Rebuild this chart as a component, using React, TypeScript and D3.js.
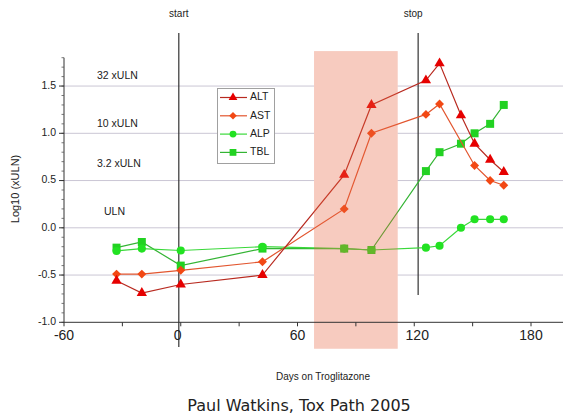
import React from "react";
import * as d3 from "d3";

// ---- data ----
const altDays = [-33, -20, 0, 42, 84, 98, 126, 133, 144, 151, 159, 166];
const altValues = [-0.56, -0.69, -0.6, -0.5, 0.56, 1.3, 1.56, 1.74, 1.19, 0.89, 0.72, 0.59];

const astDays = [-33, -20, 0, 42, 84, 98, 126, 133, 151, 159, 166];
const astValues = [-0.49, -0.49, -0.45, -0.36, 0.2, 1.0, 1.2, 1.31, 0.66, 0.5, 0.45];

const alpDays = [-33, -20, 0, 42, 84, 98, 126, 133, 144, 151, 159, 166];
const alpValues = [-0.245, -0.22, -0.24, -0.2, -0.22, -0.235, -0.21, -0.19, 0.0, 0.09, 0.09, 0.09];

const tblDays = [-33, -20, 0, 42, 84, 98, 126, 133, 144, 151, 159, 166];
const tblValues = [-0.21, -0.15, -0.4, -0.22, -0.22, -0.235, 0.6, 0.8, 0.89, 1.0, 1.1, 1.3];

const xTicks = [-60, 0, 60, 120, 180];
const xMinorTicks = [-30, 30, 90, 150];
const yTicks = [-1.0, -0.5, 0.0, 0.5, 1.0, 1.5];
const gridValues = [-0.5, 0.0, 0.5, 1.0, 1.5];
const levelLabels = ["32 xULN", "10 xULN", "3.2 xULN", "ULN"];
const levelLabelValues = [1.6, 1.1, 0.67, 0.17];
const startDay = -1;
const stopDay = 122;
const windowDays = [68.5, 111.5];
const windowValues = [1.87, -1.28];

const seriesNames = ["ALT", "AST", "ALP", "TBL"];

const W = 563;
const H = 417;
const FONT = "'Liberation Sans', Arial, sans-serif";

export default function App() {
  const x = d3.scaleLinear().domain([-60, 180]).range([64, 531]);
  const y = d3.scaleLinear().domain([-1, 1.8]).range([322.3, 57.7]);
  const x0 = 64;
  const xEnd = 563;
  const yBase = y(-1);

  const series = [
    { name: "ALT", days: altDays, vals: altValues, line: "#b82a20", fill: "#e60000", shape: "tri" },
    { name: "AST", days: astDays, vals: astValues, line: "#e2552e", fill: "#f24814", shape: "dia" },
    { name: "ALP", days: alpDays, vals: alpValues, line: "#3ad83a", fill: "#22e222", shape: "cir" },
    { name: "TBL", days: tblDays, vals: tblValues, line: "#34b434", fill: "#22d222", shape: "sq" },
  ];

  const symPath = (shape: string, scale = 1) => {
    if (shape === "tri") return d3.symbol(d3.symbolTriangle, 46 * scale * scale)()!;
    if (shape === "sq") return d3.symbol(d3.symbolSquare, 64 * scale * scale)()!;
    if (shape === "cir") return d3.symbol(d3.symbolCircle, 52 * scale * scale)()!;
    return d3.symbol(d3.symbolSquare, 40 * scale * scale)()!;
  };

  const line = d3
    .line<[number, number]>()
    .x((d) => x(d[0]))
    .y((d) => y(d[1]));

  const minorY = d3.range(-1, 1.8001, 0.1);

  const rx = x(windowDays[0]);
  const rw = x(windowDays[1]) - x(windowDays[0]);
  const ry = y(windowValues[0]);
  const rh = y(windowValues[1]) - y(windowValues[0]);

  const drawOrder = [3, 2, 1, 0];

  return (
    <div style={{ position: "absolute", left: 0, top: 0 }}>
      <svg width={W} height={H} style={{ display: "block", background: "#fff" }} fontFamily={FONT}>
        <rect x={0} y={0} width={W} height={H} fill="#fff" />
        {/* grid lines */}
        {gridValues.map((v) => (
          <line key={v} x1={x0} x2={xEnd} y1={y(v)} y2={y(v)} stroke="#cac6d4" strokeWidth={1} />
        ))}
        {/* window background hides grid */}
        <rect x={rx} y={ry} width={rw} height={rh} fill="#fff" />

        {/* level labels */}
        {levelLabels.map((t, i) => (
          <text
            key={t}
            x={i === 3 ? 104 : 97}
            y={y(levelLabelValues[i])}
            fontSize={10.5}
            fill="#222"
            dominantBaseline="middle"
          >
            {t}
          </text>
        ))}

        {/* start / stop lines */}
        <line x1={x(startDay)} x2={x(startDay)} y1={33} y2={347} stroke="#333" strokeWidth={1.2} />
        <line x1={x(stopDay)} x2={x(stopDay)} y1={33} y2={295} stroke="#333" strokeWidth={1.2} />
        <text x={x(startDay)} y={17} fontSize={10} textAnchor="middle" fill="#222">start</text>
        <text x={x(stopDay) - 5} y={17} fontSize={10} textAnchor="middle" fill="#222">stop</text>

        {/* series */}
        {drawOrder.map((i) => {
          const s = series[i];
          const pts = s.days.map((d, k) => [d, s.vals[k]] as [number, number]);
          return (
            <g key={s.name}>
              <path d={line(pts)!} fill="none" stroke={s.line} strokeWidth={1.2} />
              {pts.map((p, k) => (
                <path
                  key={k}
                  d={symPath(s.shape)}
                  transform={`translate(${x(p[0])},${y(p[1])})${s.shape === "dia" ? " rotate(45)" : ""}`}
                  fill={s.fill}
                />
              ))}
            </g>
          );
        })}

        {/* translucent pink window */}
        <rect x={rx} y={ry} width={rw} height={rh} fill="#e8603c" fillOpacity={0.33} />

        {/* y axis */}
        <line x1={x0} x2={x0} y1={y(1.8)} y2={yBase} stroke="#333" strokeWidth={1} />
        {minorY.map((v, i) => (
          <line key={i} x1={x0 - 2.5} x2={x0} y1={y(v)} y2={y(v)} stroke="#555" strokeWidth={0.8} />
        ))}
        {yTicks.map((v) => (
          <g key={v}>
            <line x1={x0 - 5} x2={x0} y1={y(v)} y2={y(v)} stroke="#333" strokeWidth={1} />
            <text x={56} y={y(v)} fontSize={10.5} textAnchor="end" dominantBaseline="middle" fill="#222">
              {v.toFixed(1)}
            </text>
          </g>
        ))}
        <text
          transform={`translate(16,189) rotate(-90)`}
          fontSize={11}
          textAnchor="middle"
          dominantBaseline="middle"
          fill="#222"
        >
          Log10 (xULN)
        </text>

        {/* x axis */}
        <line x1={x0} x2={xEnd} y1={yBase} y2={yBase} stroke="#333" strokeWidth={1} />
        {[...xTicks, ...xMinorTicks].map((v) => (
          <line key={v} x1={x(v)} x2={x(v)} y1={yBase} y2={yBase + 4} stroke="#333" strokeWidth={1} />
        ))}
        {xTicks.map((v) => (
          <text key={v} x={x(v) + (v === 0 ? -3 : v === 120 ? 3 : 0)} y={340} fontSize={14} textAnchor="middle" fill="#222">
            {String(v)}
          </text>
        ))}
        <text x={323} y={380} fontSize={10} textAnchor="middle" fill="#222">
          Days on Troglitazone
        </text>

        {/* legend */}
        <rect x={217.5} y={88.5} width={57} height={75} fill="#fff" stroke="#a0a0a0" strokeWidth={1} />
        {series.map((s, i) => {
          const ly = 97.5 + i * 18.3;
          return (
            <g key={s.name}>
              <line x1={220} x2={247} y1={ly} y2={ly} stroke={s.line} strokeWidth={1.2} />
              <path
                d={symPath(s.shape, 0.85)}
                transform={`translate(233,${ly})${s.shape === "dia" ? " rotate(45)" : ""}`}
                fill={s.fill}
              />
              <text x={250} y={ly} fontSize={10.5} dominantBaseline="middle" fill="#222">
                {seriesNames[i]}
              </text>
            </g>
          );
        })}

        {/* caption */}
        <text x={299} y={411} fontSize={16} textAnchor="middle" fill="#222" fontFamily="'DejaVu Sans', Verdana, sans-serif">
          Paul Watkins, Tox Path 2005
        </text>
      </svg>
    </div>
  );
}
